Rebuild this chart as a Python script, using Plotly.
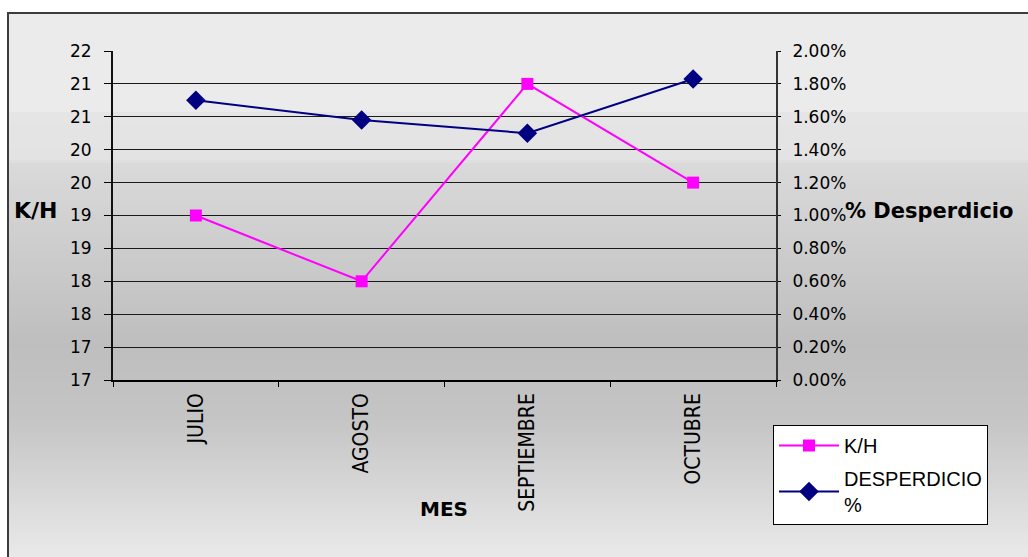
import numpy as np
import plotly.graph_objects as go

# ---- data ----
meses = ["JULIO", "AGOSTO", "SEPTIEMBRE", "OCTUBRE"]
kh = [19.0, 18.0, 21.0, 19.5]
desperdicio = [0.0170, 0.0158, 0.0150, 0.0183]
kh_tickvals = [16.5, 17.0, 17.5, 18.0, 18.5, 19.0, 19.5, 20.0, 20.5, 21.0, 21.5]
kh_ticktext = ["17", "17", "18", "18", "19", "19", "20", "20", "21", "21", "22"]

W, H = 1028, 557
L, R, T, B = 113, 776, 51, 380  # plot area pixel box


def px_x(p):
    return (p - L) / (R - L)


def px_y(p):
    return (B - p) / (B - T)


fig = go.Figure()

fig.add_trace(go.Scatter(
    x=meses, y=kh, name="K/H", mode="lines+markers", legendgroup="a",
    line=dict(color="#ff00ff", width=2),
    marker=dict(symbol="square", size=12, color="#ff00ff"),
    yaxis="y", cliponaxis=False))
fig.add_trace(go.Scatter(
    x=meses, y=desperdicio, name="DESPERDICIO<br>%", mode="lines+markers", legendgroup="b",
    line=dict(color="#000080", width=2),
    marker=dict(symbol="diamond", size=15, color="#000080"),
    yaxis="y2", cliponaxis=False))

# ---- background gradient (chart area) ----
stops = [(13, 235), (112, 235), (113, 229), (161, 227), (162, 218),
         (345, 190), (420, 197), (557, 233)]
sy = [s[0] for s in stops]
sv = [s[1] for s in stops]
shapes = []
edges = np.arange(13, 560, 3)
for y0 in edges:
    y1 = y0 + 3
    g = int(round(np.interp(y0 + 1.5, sy, sv)))
    shapes.append(dict(type="rect", xref="paper", yref="paper", layer="below",
                       x0=px_x(8), x1=px_x(1040), y0=px_y(y1), y1=px_y(y0),
                       fillcolor=f"rgb({g},{g},{g})", line=dict(width=0)))
# chart border
shapes.append(dict(type="rect", xref="paper", yref="paper", layer="below",
                   x0=px_x(8), x1=px_x(1040), y0=px_y(570), y1=px_y(13),
                   fillcolor="rgba(0,0,0,0)", line=dict(color="#3c3c3c", width=2)))

FONT = "DejaVu Sans, Liberation Sans, Arial"
axis_font = dict(family=FONT, size=17, color="#000")

fig.update_layout(
    width=W, height=H, autosize=False,
    margin=dict(l=L, r=W - R, t=T, b=H - B, pad=0),
    paper_bgcolor="white", plot_bgcolor="rgba(0,0,0,0)",
    shapes=shapes,
    showlegend=True,
    legend=dict(x=px_x(773), y=px_y(425), xanchor="left", yanchor="top",
                bgcolor="white", bordercolor="#000", borderwidth=1,
                font=dict(family="Liberation Sans, Arial, DejaVu Sans", size=20, color="#000"),
                itemwidth=60, traceorder="grouped", tracegroupgap=4),
    xaxis=dict(type="category", range=[-0.5, 3.5], tickson="boundaries",
               ticks="outside", ticklen=5, tickcolor="#000",
               showline=True, linecolor="#000", linewidth=1.5,
               showgrid=False, tickangle=-90,
               tickfont=dict(family="Liberation Sans Narrow, Arial Narrow, DejaVu Sans Condensed", size=21, color="#000"),
               ticklabelstandoff=3),
    yaxis=dict(range=[16.5, 21.5], tickvals=kh_tickvals, ticktext=kh_ticktext,
               ticks="outside", ticklen=7, tickcolor="#000",
               showline=True, linecolor="#111", linewidth=2,
               showgrid=True, gridcolor="#1a1a1a", gridwidth=1,
               zeroline=False, tickfont=axis_font, ticklabelstandoff=9),
    yaxis2=dict(range=[0, 0.02], dtick=0.002, tickformat=".2%",
                overlaying="y", side="right",
                ticks="outside", ticklen=3, tickcolor="#000",
                showline=True, linecolor="#333", linewidth=2,
                showgrid=False, zeroline=False, tickfont=axis_font,
                ticklabelstandoff=8),
    annotations=[
        dict(text="<b>K/H</b>", xref="paper", yref="paper", x=px_x(12), y=px_y(210),
             xanchor="left", yanchor="middle", showarrow=False,
             font=dict(family=FONT, size=22, color="#000")),
        dict(text="<b>% Desperdicio</b>", xref="paper", yref="paper", x=px_x(843), y=px_y(211),
             xanchor="left", yanchor="middle", showarrow=False,
             font=dict(family=FONT, size=21, color="#000")),
        dict(text="<b>MES</b>", xref="paper", yref="paper", x=px_x(444), y=px_y(509),
             xanchor="center", yanchor="middle", showarrow=False,
             font=dict(family=FONT, size=20, color="#000")),
    ],
)

fig.write_html("out.html", config={"displayModeBar": False},
               post_script="document.body.style.margin='0';document.body.style.overflow='hidden';")
